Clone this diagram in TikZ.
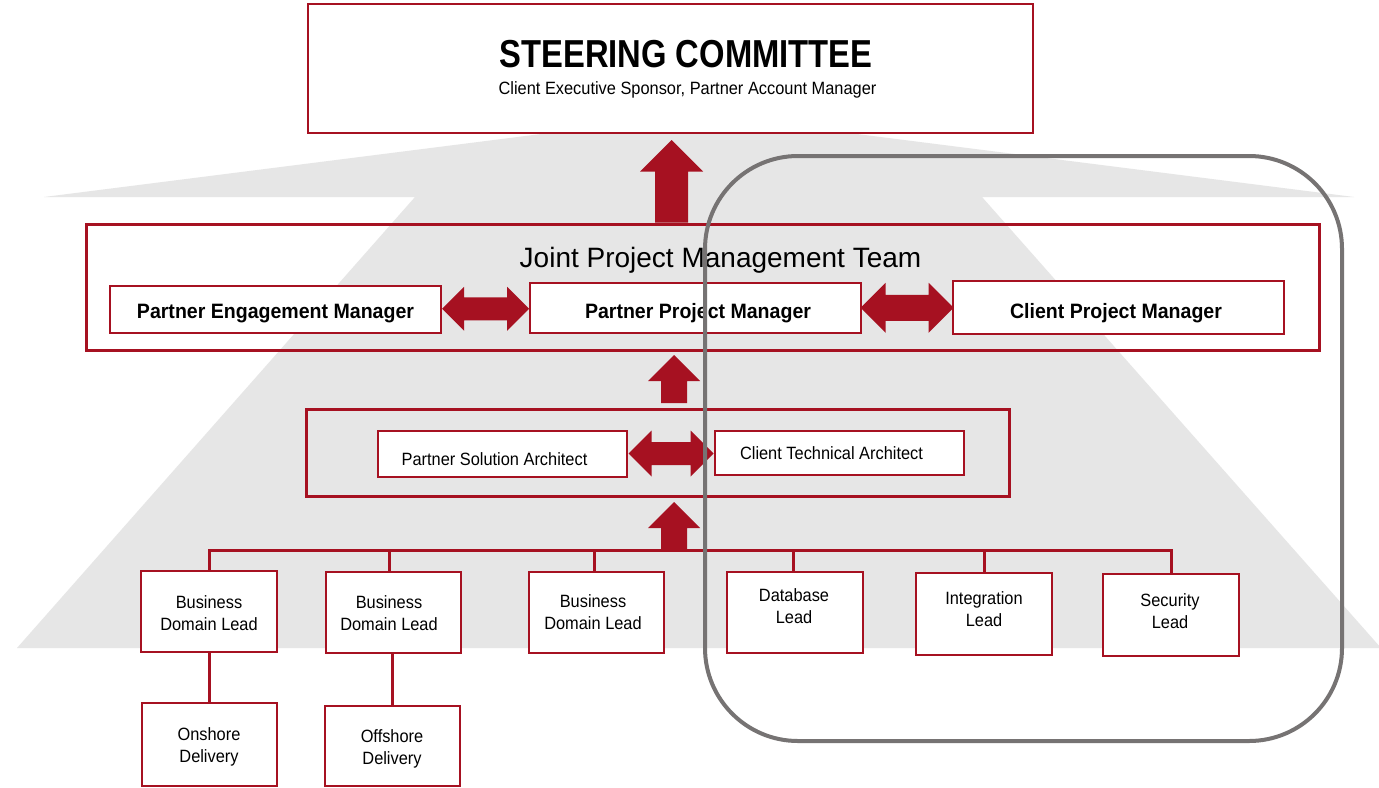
\documentclass[tikz,border=0pt]{standalone}
\usepackage{fontspec}
\setmainfont{Liberation Sans}
\newfontfamily\narrowsf[FakeStretch=0.92]{Liberation Sans}
\newfontfamily\semisf[FakeStretch=0.94]{Liberation Sans}
\newfontfamily\titlesf[FakeStretch=0.84]{Liberation Sans}
\usetikzlibrary{calc}

\definecolor{brandred}{RGB}{166,17,33}
\definecolor{backdrop}{RGB}{230,230,230}
\definecolor{clientgray}{RGB}{118,115,115}

\tikzset{
  rolebox/.style={draw=brandred, line width=1pt, fill=white, inner sep=0pt},
  teambox/.style={draw=brandred, line width=1.5pt, inner sep=0pt},
  link/.style={draw=brandred, line width=1.5pt},
  boldlabel/.style={font=\semisf\fontsize{10.4}{12}\selectfont\bfseries, anchor=base, inner sep=0pt},
  smalllabel/.style={font=\narrowsf\fontsize{8.9}{11}\selectfont, align=center, inner sep=0pt},
  % block arrow pointing up: length / head half-width / shaft half-width
  pics/uparrow/.style args={#1/#2/#3}{code={
    \fill[brandred] (-#3,0) -- (-#3,{-(#1-#2)}) -- (-#2,{-(#1-#2)}) -- (0,-#1)
      -- (#2,{-(#1-#2)}) -- (#3,{-(#1-#2)}) -- (#3,0) -- cycle;}},
  % two-headed horizontal block arrow: half-length / head half-height / shaft half-height
  pics/duplex/.style args={#1/#2/#3}{code={
    \fill[brandred] (-#1,0) -- ({-#1+#2},-#2) -- ({-#1+#2},-#3) -- ({#1-#2},-#3)
      -- ({#1-#2},-#2) -- (#1,0) -- ({#1-#2},#2) -- ({#1-#2},#3)
      -- ({-#1+#2},#3) -- ({-#1+#2},#2) -- cycle;}},
}

\begin{document}
\begin{tikzpicture}[x=0.5pt,y=-0.5pt]
\useasboundingbox (0,0) rectangle (1379,787);
\fill[white] (0,0) rectangle (1379,787);

% grey pyramid behind the chart
\begin{scope}
  \clip (0,0) rectangle (1379,787);
  \fill[backdrop] (44,197) -- (699,114) -- (1354,197) -- (982,197)
    -- (1381,648) -- (17,648) -- (415,197) -- cycle;
\end{scope}

% steering committee
\node[rolebox, minimum width=362.5pt, minimum height=64.5pt] (steer) at (670.5,68.5) {};
\node[font=\titlesf\fontsize{19.5}{22}\selectfont\bfseries, anchor=base, inner sep=0pt]
  (steertitle) at (686,67) {STEERING COMMITTEE};
\node[font=\narrowsf\fontsize{8.9}{11}\selectfont, anchor=base, inner sep=0pt]
  (steersub) at (687.5,94) {Client Executive Sponsor, Partner Account Manager};

% joint project management team
\node[teambox, minimum width=616.5pt, minimum height=63pt] (joint) at (702.5,287) {};
\node[font=\fontsize{14}{16}\selectfont, anchor=base, inner sep=0pt]
  (jointtitle) at (720.5,267) {Joint Project Management Team};

\node[rolebox, minimum width=165.5pt, minimum height=23.5pt] (pem) at (275.5,309.5) {};
\node[rolebox, minimum width=165.5pt, minimum height=25pt] (ppm) at (695.5,308) {};
\node[rolebox, minimum width=165.5pt, minimum height=26.5pt] (cpm) at (1118.5,307.5) {};
\node[boldlabel] (pemt) at (275.5,318) {Partner Engagement Manager};
\node[boldlabel] (ppmt) at (698,318) {Partner Project Manager};
\node[boldlabel] (cpmt) at (1116,318) {Client Project Manager};

% architects
\node[teambox, minimum width=351.5pt, minimum height=43.5pt] (arch) at (657.5,452.5) {};
\node[rolebox, minimum width=124.5pt, minimum height=23pt] (psa) at (502.5,454) {};
\node[rolebox, minimum width=124.5pt, minimum height=22pt] (cta) at (839.5,453) {};
\node[smalllabel, anchor=base] (psat) at (494.5,465) {Partner Solution Architect};
\node[smalllabel, anchor=base] (ctat) at (831.5,459) {Client Technical Architect};

% leads
\node[rolebox, minimum width=68pt, minimum height=40.5pt] (bdla) at (209,611.5) {};
\node[rolebox, minimum width=67.5pt, minimum height=40.5pt] (bdlb) at (393.5,612.5) {};
\node[rolebox, minimum width=67.5pt, minimum height=40.5pt] (bdlc) at (596.5,612.5) {};
\node[rolebox, minimum width=68pt, minimum height=40.5pt] (dbl) at (795,612.5) {};
\node[rolebox, minimum width=68pt, minimum height=41pt] (intl) at (984,614) {};
\node[rolebox, minimum width=68pt, minimum height=41pt] (secl) at (1171,615) {};
\node[rolebox, minimum width=67.5pt, minimum height=41.5pt] (onsh) at (209.5,744.5) {};
\node[rolebox, minimum width=67.5pt, minimum height=40pt] (offsh) at (392.5,746) {};

\node[smalllabel] (bdlat) at (209,613) {Business\\Domain Lead};
\node[smalllabel] (bdlbt) at (389,613) {Business\\Domain Lead};
\node[smalllabel] (bdlct) at (593,612) {Business\\Domain Lead};
\node[smalllabel] (dblt) at (794,606) {Database\\Lead};
\node[smalllabel] (intlt) at (984,609) {Integration\\Lead};
\node[smalllabel] (seclt) at (1170,611.5) {Security\\Lead};
\node[smalllabel] (onsht) at (209,747) {Onshore\\Delivery};
\node[smalllabel] (offsht) at (392,749) {Offshore\\Delivery};

% reporting bus
\coordinate (tapa) at (209,550);
\coordinate (tapb) at (389,550);
\coordinate (tapc) at (594,550);
\coordinate (tapd) at (793,550);
\coordinate (tape) at (984,550);
\coordinate (tapf) at (1171,550);
\draw[link] (tapa |- bdla.north) -- (tapa) -- (tapf) -- (tapf |- secl.north);
\draw[link] (tapb) -- (tapb |- bdlb.north);
\draw[link] (tapc) -- (tapc |- bdlc.north);
\draw[link] (tapd) -- (tapd |- dbl.north);
\draw[link] (tape) -- (tape |- intl.north);
\draw[link] (bdla.south) -- (bdla.south |- onsh.north);
\draw[link] (offsh.north) -- (offsh.north |- bdlb.south);

% block arrows
\coordinate (upa) at (671.5,222.5);
\coordinate (upb) at (674,403);
\coordinate (upc) at (674,550);
\pic at (upa) {uparrow=82.5/31.5/16.5};
\pic at (upb) {uparrow=48/26/13};
\pic at (upc) {uparrow=48/26/13};
\pic at ($(pem.east)!0.5!(ppm.west)$) {duplex=43.5/22/11.5};
\pic at ($(ppm.east)!0.5!(cpm.west)$) {duplex=46.5/25/13};
\pic at ($(psa.east)!0.5!(cta.west)$) {duplex=42.5/23/11.5};

% client-side outline on top
\node[draw=clientgray, line width=2pt, rounded corners=46.5pt, inner sep=0pt,
  minimum width=318.5pt, minimum height=292.5pt] (clientside) at (1023.5,448.5) {};
\end{tikzpicture}
\end{document}
